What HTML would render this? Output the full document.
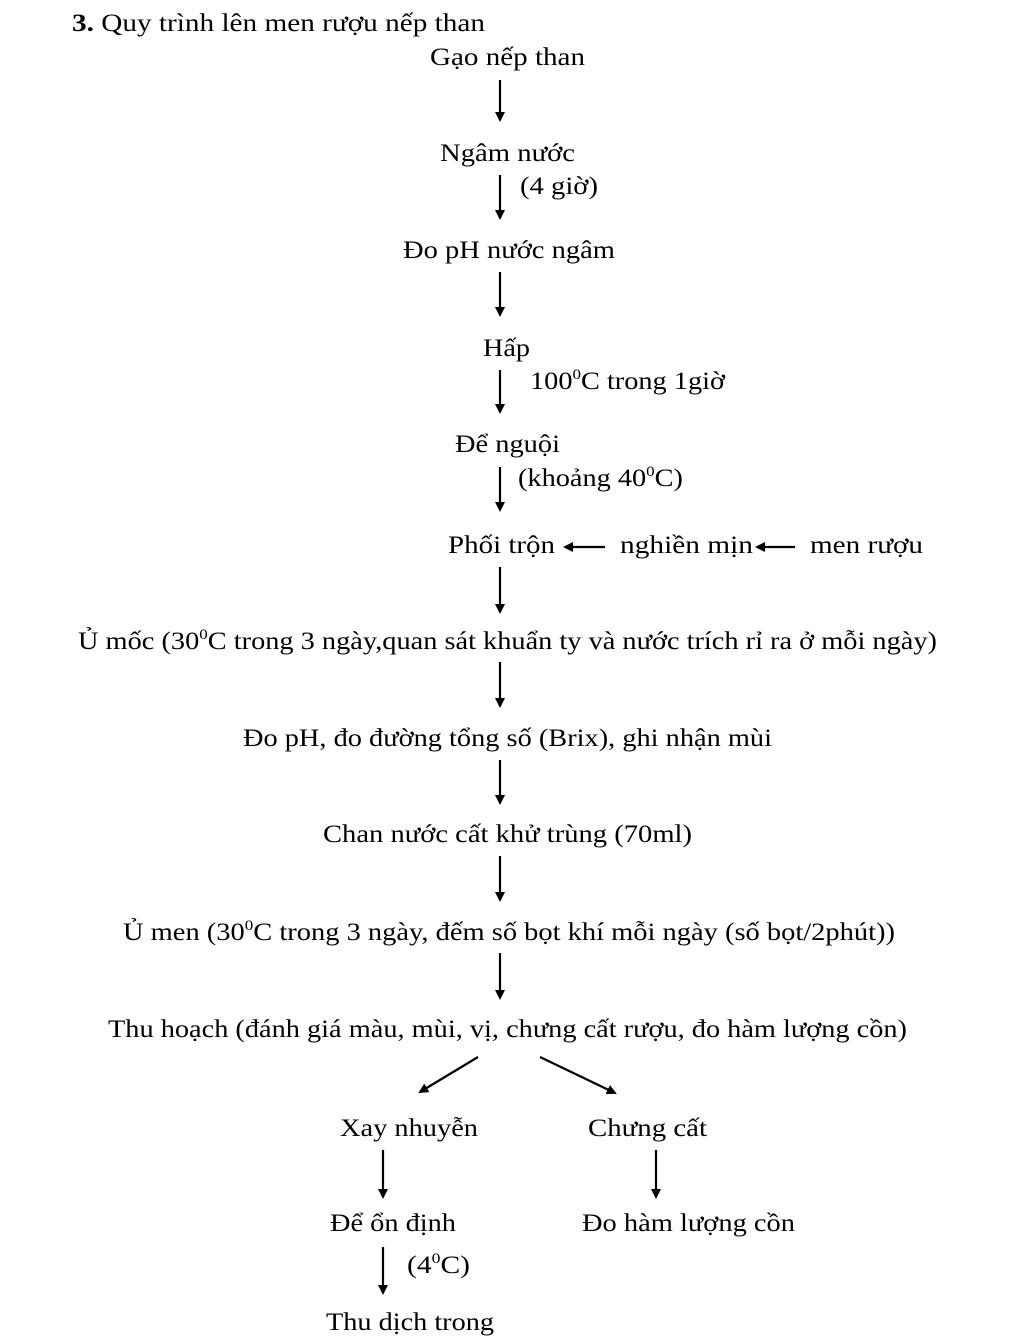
<!DOCTYPE html>
<html><head><meta charset="utf-8"><style>
html,body{margin:0;padding:0;background:#fff;}
svg{display:block;}
text{font-family:"Liberation Serif",serif;font-size:25px;fill:#000;}
</style></head><body>
<svg width="1024" height="1339" viewBox="0 0 1024 1339" xmlns="http://www.w3.org/2000/svg">
<defs>
<marker id="ah" markerWidth="10" markerHeight="10" refX="8" refY="5" orient="auto" markerUnits="userSpaceOnUse">
<path d="M0,0 L10,5 L0,10 Z" fill="#000"/>
</marker>
</defs>
<g lengthAdjust="spacingAndGlyphs">
<text x="72" y="31" textLength="413" lengthAdjust="spacingAndGlyphs"><tspan font-weight="bold">3.</tspan>  Quy trình lên men rượu nếp than</text>
<text x="430" y="65" textLength="155" lengthAdjust="spacingAndGlyphs">Gạo nếp than</text>
<text x="440" y="161" textLength="135" lengthAdjust="spacingAndGlyphs">Ngâm nước</text>
<text x="520" y="194" textLength="78" lengthAdjust="spacingAndGlyphs">(4 giờ)</text>
<text x="403" y="258" textLength="212" lengthAdjust="spacingAndGlyphs">Đo pH nước ngâm</text>
<text x="483" y="356" textLength="47" lengthAdjust="spacingAndGlyphs">Hấp</text>
<text x="530" y="389" textLength="195" lengthAdjust="spacingAndGlyphs">100<tspan font-size="15" dy="-10">0</tspan><tspan dy="10">C trong 1giờ</tspan></text>
<text x="455" y="452" textLength="105" lengthAdjust="spacingAndGlyphs">Để nguội</text>
<text x="518" y="486" textLength="165" lengthAdjust="spacingAndGlyphs">(khoảng 40<tspan font-size="15" dy="-10">0</tspan><tspan dy="10">C)</tspan></text>
<text x="448" y="553" textLength="107" lengthAdjust="spacingAndGlyphs">Phối trộn</text>
<text x="620" y="553" textLength="133" lengthAdjust="spacingAndGlyphs">nghiền mịn</text>
<text x="810" y="553" textLength="113" lengthAdjust="spacingAndGlyphs">men rượu</text>
<text x="78" y="649" textLength="859" lengthAdjust="spacingAndGlyphs">Ủ mốc (30<tspan font-size="15" dy="-10">0</tspan><tspan dy="10">C trong 3 ngày,quan sát khuẩn ty và nước trích rỉ ra ở mỗi ngày)</tspan></text>
<text x="243" y="746" textLength="529" lengthAdjust="spacingAndGlyphs">Đo pH, đo đường tổng số (Brix), ghi nhận mùi</text>
<text x="323" y="842" textLength="369" lengthAdjust="spacingAndGlyphs">Chan nước cất khử trùng (70ml)</text>
<text x="123" y="940" textLength="772" lengthAdjust="spacingAndGlyphs">Ủ men (30<tspan font-size="15" dy="-10">0</tspan><tspan dy="10">C trong 3 ngày, đếm số bọt khí mỗi ngày (số bọt/2phút))</tspan></text>
<text x="108" y="1037" textLength="799" lengthAdjust="spacingAndGlyphs">Thu hoạch (đánh giá màu, mùi, vị, chưng cất rượu, đo hàm lượng cồn)</text>
<text x="340" y="1136" textLength="138" lengthAdjust="spacingAndGlyphs">Xay nhuyễn</text>
<text x="588" y="1136" textLength="119" lengthAdjust="spacingAndGlyphs">Chưng cất</text>
<text x="330" y="1231" textLength="126" lengthAdjust="spacingAndGlyphs">Để ổn định</text>
<text x="582" y="1231" textLength="213" lengthAdjust="spacingAndGlyphs">Đo hàm lượng cồn</text>
<text x="407" y="1273" textLength="63" lengthAdjust="spacingAndGlyphs">(4<tspan font-size="15" dy="-10">0</tspan><tspan dy="10">C)</tspan></text>
<text x="326" y="1330" textLength="168" lengthAdjust="spacingAndGlyphs">Thu dịch trong</text>
</g>
<g stroke="#000" stroke-width="2.2" marker-end="url(#ah)">
<line x1="500" y1="80" x2="500" y2="120"/>
<line x1="500" y1="175" x2="500" y2="218"/>
<line x1="500" y1="272" x2="500" y2="315"/>
<line x1="500" y1="370" x2="500" y2="412"/>
<line x1="500" y1="467" x2="500" y2="510"/>
<line x1="605" y1="547" x2="565" y2="547"/>
<line x1="795" y1="547" x2="757" y2="547"/>
<line x1="500" y1="567" x2="500" y2="612"/>
<line x1="500" y1="662" x2="500" y2="706"/>
<line x1="500" y1="760" x2="500" y2="803"/>
<line x1="500" y1="856" x2="500" y2="900"/>
<line x1="500" y1="953" x2="500" y2="998"/>
<line x1="478" y1="1057" x2="420" y2="1092"/>
<line x1="540" y1="1057" x2="615" y2="1093"/>
<line x1="383" y1="1150" x2="383" y2="1197"/>
<line x1="656" y1="1150" x2="656" y2="1197"/>
<line x1="383" y1="1247" x2="383" y2="1293"/>
</g>
</svg>
</body></html>
